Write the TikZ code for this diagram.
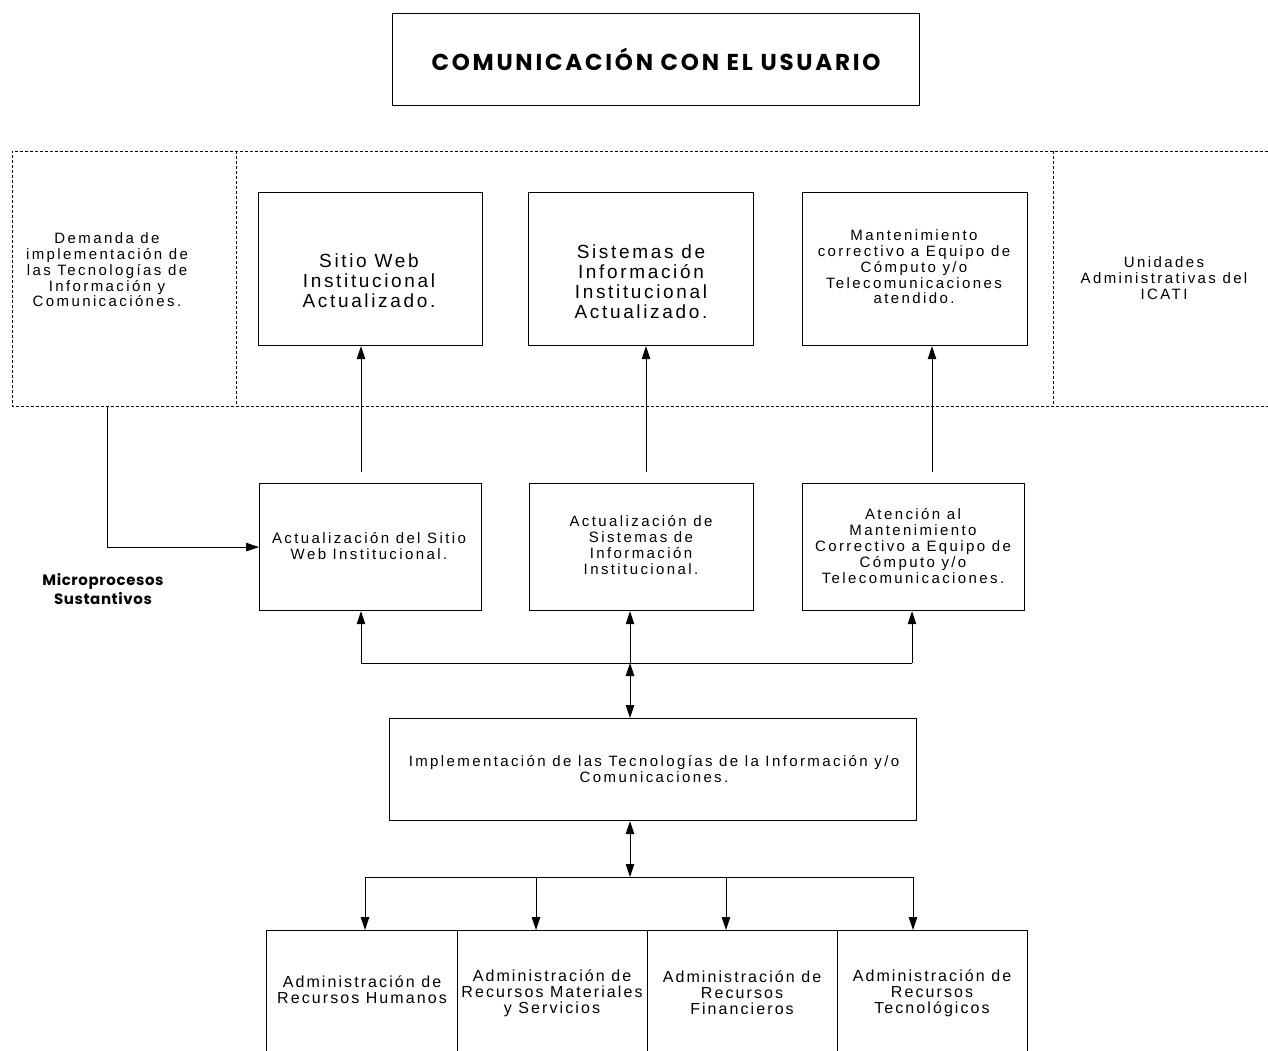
\documentclass[tikz,border=0pt]{standalone}
\usepackage{fontspec}
\setmainfont{Liberation Sans}
\newfontfamily\bodyfont{Liberation Sans}[LetterSpace=16]
\newfontfamily\bigfont{Liberation Sans}[LetterSpace=14]
\newfontfamily\botfont{Liberation Sans}[LetterSpace=13]
\newfontfamily\titlefont{Poppins}[LetterSpace=12]
\newfontfamily\labelfont{Poppins}[LetterSpace=4]
\usetikzlibrary{arrows.meta}
\begin{document}
\begin{tikzpicture}[x=1pt,y=1pt,
  box/.style={draw, line width=1.2pt, rectangle, inner sep=0, anchor=north west},
  txt/.style={align=center, font=\bodyfont\fontsize{15}{15.8}\selectfont, inner sep=0},
  bigtxt/.style={align=center, font=\bigfont\fontsize{19}{20}\selectfont, inner sep=0},
  bottxt/.style={align=center, font=\botfont\fontsize{16}{16}\selectfont, inner sep=0},
  conn/.style={line width=0.9pt},
  arr/.style={conn, -{Triangle[length=13pt,width=8.5pt]}},
  darr/.style={conn, {Triangle[length=13pt,width=8.5pt]}-{Triangle[length=13pt,width=8.5pt]}},
  dashline/.style={line width=0.7pt, dash pattern=on 3pt off 2pt}
]
\useasboundingbox (0,0) rectangle (1268,-1051);
\fill[white] (0,0) rectangle (1268,-1051);

% title
\node[box, minimum width=527pt, minimum height=92pt] (title) at (392,-13) {};
\node[font=\titlefont\bfseries\fontsize{23}{26}\selectfont, inner sep=0] (titletxt) at (656,-59) {COMUNICACIÓN CON EL USUARIO};

% dashed area
\draw[dashline] (1268,-151) -- (12,-151) -- (12,-406) -- (1268,-406);
\draw[dashline] (236,-151) -- (236,-406);
\draw[dashline] (1053,-151) -- (1053,-406);
\node[txt] (demanda) at (107,-270) {Demanda de\\implementación de\\las Tecnologías de\\Información y\\Comunicaciónes.};
\node[txt] (unidades) at (1164,-278) {Unidades\\Administrativas del\\ICATI};

% top boxes
\node[box, minimum width=224pt, minimum height=153pt] (t1) at (258,-192) {};
\node[box, minimum width=225pt, minimum height=153pt] (t2) at (528,-192) {};
\node[box, minimum width=225pt, minimum height=153pt] (t3) at (802,-192) {};
\node[bigtxt] (t1txt) at (369,-281) {Sitio Web\\Institucional\\Actualizado.};
\node[bigtxt] (t2txt) at (641,-282) {Sistemas de\\Información\\Institucional\\Actualizado.};
\node[txt] (t3txt) at (914,-267) {Mantenimiento\\correctivo a Equipo de\\Cómputo y/o\\Telecomunicaciones\\atendido.};

% middle boxes
\node[box, minimum width=222pt, minimum height=127pt] (m1) at (259,-483) {};
\node[box, minimum width=224pt, minimum height=127pt] (m2) at (529,-483) {};
\node[box, minimum width=222pt, minimum height=127pt] (m3) at (802,-483) {};
\node[txt] (m1txt) at (369,-546) {Actualización del Sitio\\Web Institucional.};
\node[txt] (m2txt) at (641,-545) {Actualización de\\Sistemas de\\Información\\Institucional.};
\node[txt] (m3txt) at (913,-546) {Atención al\\Mantenimiento\\Correctivo a Equipo de\\Cómputo y/o\\Telecomunicaciones.};
\node[align=center, font=\labelfont\bfseries\fontsize{15}{19}\selectfont, inner sep=0] (micro) at (103,-589) {Microprocesos\\Sustantivos};

% implementation
\node[box, minimum width=527pt, minimum height=102pt] (impl) at (389,-718) {};
\node[txt] (impltxt) at (654,-769) {Implementación de las Tecnologías de la Información y/o\\Comunicaciones.};

% bottom boxes
\node[minimum width=191pt, minimum height=125pt, inner sep=0, anchor=north west] (b1) at (266,-930) {};
\node[minimum width=190pt, minimum height=125pt, inner sep=0, anchor=north west] (b2) at (457,-930) {};
\node[minimum width=190pt, minimum height=125pt, inner sep=0, anchor=north west] (b3) at (647,-930) {};
\node[minimum width=190pt, minimum height=125pt, inner sep=0, anchor=north west] (b4) at (837,-930) {};
\draw[line width=0.9pt] (b1.south west) |- (b4.north east) -- (b4.south east);
\draw[line width=0.9pt] (b1.north east) -- (b1.south east);
\draw[line width=0.9pt] (b2.north east) -- (b2.south east);
\draw[line width=0.9pt] (b3.north east) -- (b3.south east);
\node[bottxt] (b1txt) at (362,-990) {Administración de\\Recursos Humanos};
\node[bottxt] (b2txt) at (552,-993) {Administración de\\Recursos Materiales\\y Servicios};
\node[bottxt] (b3txt) at (742,-993) {Administración de\\Recursos\\Financieros};
\node[bottxt] (b4txt) at (932,-993) {Administración de\\Recursos\\Tecnológicos};

% connectors to top boxes
\coordinate (a1) at (361,-472);
\coordinate (a2) at (646,-472);
\coordinate (a3) at (932,-472);
\draw[arr] (a1) -- (a1 |- t1.south);
\draw[arr] (a2) -- (a2 |- t2.south);
\draw[arr] (a3) -- (a3 |- t3.south);

% demand connector
\coordinate (d) at (107,-406);
\draw[arr] (d) |- (m1.west);

% bus between middle and implementation
\coordinate (bus) at (630,-663);
\coordinate (busL) at (361,-663);
\coordinate (busR) at (912,-663);
\draw[conn] (busL) -- (busR);
\draw[arr] (busL) -- (busL |- m1.south);
\draw[arr] (bus) -- (bus |- m2.south);
\draw[arr] (busR) -- (busR |- m3.south);
\draw[darr] (bus |- impl.north) -- (bus);

% bus between implementation and bottom
\coordinate (bus2) at (630,-877);
\coordinate (c1) at (365,-877);
\coordinate (c2) at (536,-877);
\coordinate (c3) at (726,-877);
\coordinate (c4) at (913,-877);
\draw[darr] (impl.south -| bus2) -- (bus2);
\draw[conn] (c1) -- (c4);
\draw[arr] (c1) -- (c1 |- b1.north);
\draw[arr] (c2) -- (c2 |- b2.north);
\draw[arr] (c3) -- (c3 |- b3.north);
\draw[arr] (c4) -- (c4 |- b4.north);
\end{tikzpicture}
\end{document}
